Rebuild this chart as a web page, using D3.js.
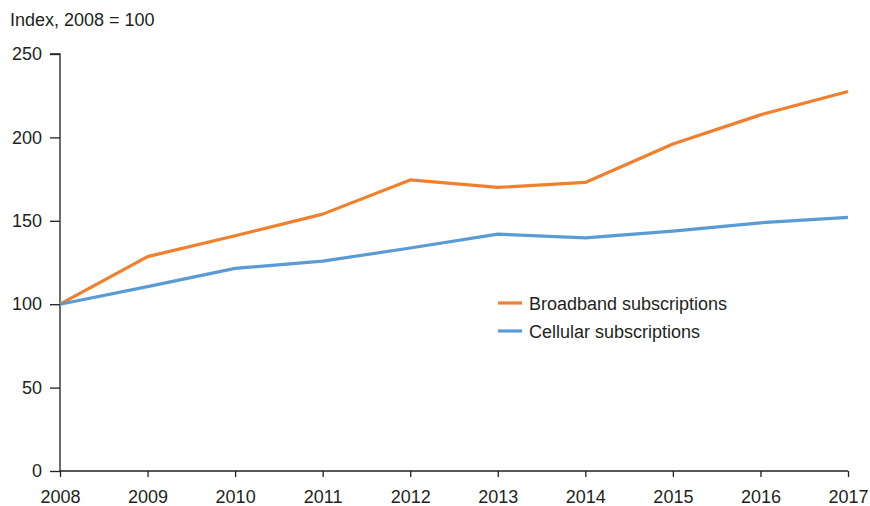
<!DOCTYPE html>
<html>
<head>
<meta charset="utf-8">
<script src="https://cdn.jsdelivr.net/npm/d3@7"></script>
<style>
  body { margin: 0; background: #fff; }
  text { font-family: "Liberation Sans", Arial, sans-serif; fill: #231f20; }
</style>
</head>
<body>
<div id="chart"></div>
<script>
const years = [2008, 2009, 2010, 2011, 2012, 2013, 2014, 2015, 2016, 2017];
const broadband = [100, 128.5, 141, 154, 174.5, 170, 173, 196, 213.5, 227.5];
const cellular = [100, 110.5, 121.5, 125.8, 133.7, 142, 139.8, 143.8, 148.8, 152];
const yTicks = [0, 50, 100, 150, 200, 250];
const seriesNames = ["Broadband subscriptions", "Cellular subscriptions"];
const colors = ["#f07f2e", "#5b9bd5"];

const W = 870, H = 506;
const MARGIN = { top: 54, right: 22, bottom: 35, left: 60 };
const width = W - MARGIN.left - MARGIN.right;
const height = H - MARGIN.top - MARGIN.bottom;
const FONT = 18;

const svg = d3.select("#chart").append("svg")
    .attr("width", W)
    .attr("height", H);

const g = svg.append("g")
    .attr("transform", `translate(${MARGIN.left},${MARGIN.top})`);

const x = d3.scaleLinear().domain([2008, 2017]).range([0, width]);
const y = d3.scaleLinear().domain([0, 250]).range([height, 0]);

// axes
const xAxis = g.append("g")
    .attr("transform", `translate(0,${height})`)
    .call(d3.axisBottom(x).tickValues(years).tickFormat(d3.format("d")).tickSize(6).tickPadding(13));
const yAxis = g.append("g")
    .call(d3.axisLeft(y).tickValues(yTicks).tickSize(10).tickPadding(8));

[xAxis, yAxis].forEach(a => {
    a.select(".domain").attr("stroke", "#231f20").attr("stroke-width", 1.3);
    a.selectAll(".tick line").attr("stroke", "#231f20").attr("stroke-width", 1.3);
    a.selectAll(".tick text").attr("font-size", FONT).attr("fill", "#231f20")
        .style("font-family", '"Liberation Sans", Arial, sans-serif');
});
yAxis.select(".domain").attr("d", `M0,${height}V0H-10`);
xAxis.select(".domain").attr("d", `M0,0H${width}`);

// lines
const line = d3.line().x((d, i) => x(years[i])).y(d => y(d));
[broadband, cellular].forEach((s, i) => {
    g.append("path")
        .datum(s)
        .attr("fill", "none")
        .attr("stroke", colors[i])
        .attr("stroke-width", 3.2)
        .attr("stroke-linejoin", "round")
        .attr("d", line);
});

// legend
const legend = g.append("g").attr("transform", `translate(${498 - MARGIN.left},${303 - MARGIN.top})`);
seriesNames.forEach((name, i) => {
    const row = legend.append("g").attr("transform", `translate(0,${i * 28})`);
    row.append("line")
        .attr("x1", 0).attr("x2", 24)
        .attr("stroke", colors[i]).attr("stroke-width", 3.2);
    row.append("text")
        .attr("x", 31).attr("y", 6.5)
        .attr("font-size", FONT)
        .text(name);
});

// y label
svg.append("text")
    .attr("x", 10).attr("y", 26)
    .attr("font-size", FONT)
    .text("Index, 2008 = 100");
</script>
</body>
</html>
